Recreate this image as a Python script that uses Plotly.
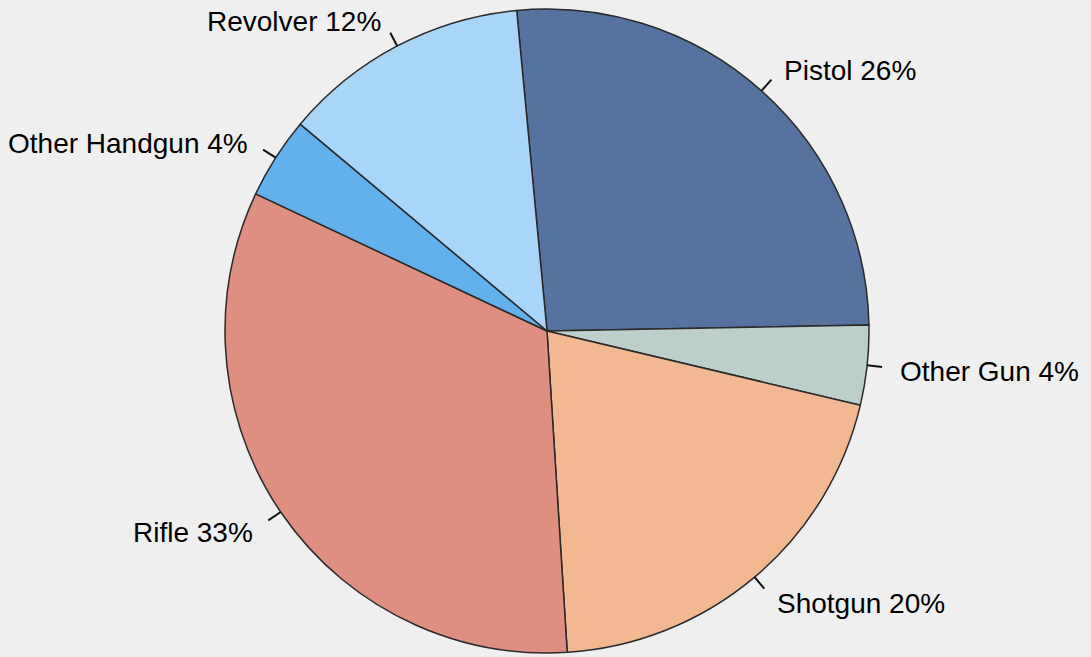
import numpy as np
import plotly.graph_objects as go

labels = ["Pistol", "Other Gun", "Shotgun", "Rifle", "Other Handgun", "Revolver"]
values = [26.2, 4.0, 20.3, 33.0, 4.1, 12.4]
colors = ["#56739f", "#bccfcb", "#f1b891", "#df8f80", "#62b0ec", "#a9d5f7"]

W, H = 1091, 657
cx, cy, R = 547, 331, 322
start_deg = -5.4

fig = go.Figure(go.Pie(
    labels=labels, values=values, sort=False, direction="clockwise",
    rotation=start_deg,
    marker=dict(colors=colors, line=dict(color="#2a2a2a", width=1.5)),
    textinfo="none", hoverinfo="label+percent", showlegend=False,
    domain=dict(x=[(cx - R) / W, (cx + R) / W], y=[(H - cy - R) / H, (H - cy + R) / H]),
))

vals = np.array(values, dtype=float)
fr = vals / vals.sum()
ends = start_deg + 360 * np.cumsum(fr)
mids = ends - 180 * fr

shapes, annos = [], []
for lab, v, m in zip(labels, fr, mids):
    a = np.radians(m)
    sx, sy = np.sin(a), np.cos(a)
    x0, y0 = cx + R * sx, cy - R * sy
    x1, y1 = cx + (R + 15) * sx, cy - (R + 15) * sy
    shapes.append(dict(type="line", xref="paper", yref="paper",
                       x0=x0 / W, y0=1 - y0 / H, x1=x1 / W, y1=1 - y1 / H,
                       line=dict(color="#111111", width=2)))
    lx, ly = cx + (R + 31) * sx, cy - (R + 31) * sy
    annos.append(dict(xref="paper", yref="paper", x=lx / W, y=1 - ly / H,
                      text=f"{lab} {round(v * 100):d}%", showarrow=False,
                      xanchor="left" if sx > 0 else "right", yanchor="middle",
                      yshift=-3,
                      font=dict(family="Liberation Sans, Arial", size=28, color="#000000")))

fig.update_layout(
    width=W, height=H, margin=dict(l=0, r=0, t=0, b=0),
    paper_bgcolor="#efeff0", plot_bgcolor="#efeff0",
    shapes=shapes, annotations=annos,
)
fig.write_html("out.html", config={"displayModeBar": False},
               post_script="document.body.style.margin='0';document.body.style.padding='0';document.body.style.background='#efeff0';")
